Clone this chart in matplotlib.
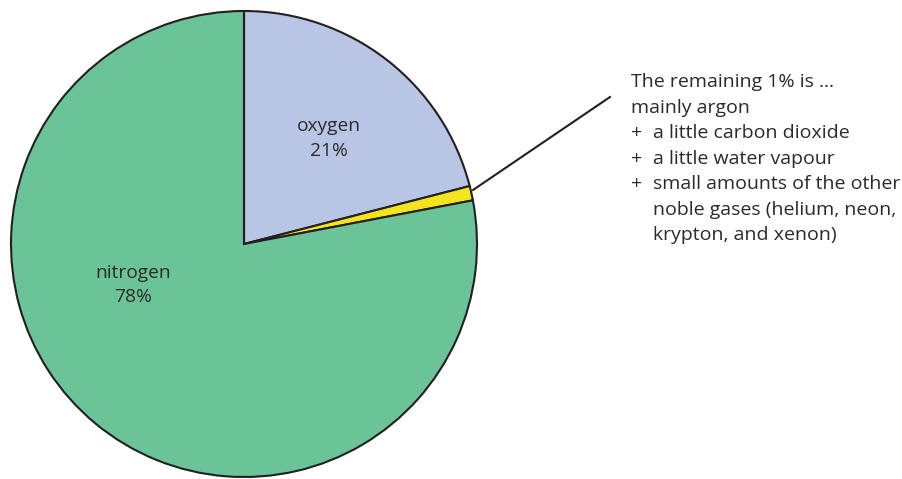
import matplotlib.pyplot as plt

plt.rcParams['font.family'] = ['Open Sans', 'DejaVu Sans']

# pie data
labels = ['oxygen', 'other', 'nitrogen']
shares = [21, 1, 78]
colours = ['#b8c5e5', '#f4e41e', '#6bc497']

# note text: (bullet, text)
note_lines = [('', 'The remaining 1% is ...'),
              ('', 'mainly argon'),
              ('+', 'a little carbon dioxide'),
              ('+', 'a little water vapour'),
              ('+', 'small amounts of the other'),
              (' ', 'noble gases (helium, neon,'),
              (' ', 'krypton, and xenon)')]

ink = '#2b2a29'

fig = plt.figure(figsize=(9.03, 4.79), dpi=100)
ax = fig.add_axes([0, 0, 1, 1])

cx, cy, r = 244, 235, 233
ax.pie(shares, colors=colours, startangle=90, counterclock=False,
       center=(cx, cy), radius=r, frame=True,
       wedgeprops=dict(edgecolor='#231f20', linewidth=1.5))
ax.set_xlim(0, 903)
ax.set_ylim(0, 479)
ax.set_aspect('equal')
ax.axis('off')

ax.text(329, 479 - 138, 'oxygen\n21%', ha='center', va='center', fontsize=13.8,
        color=ink, linespacing=1.5)
ax.text(133, 479 - 285, 'nitrogen\n78%', ha='center', va='center', fontsize=13.8,
        color=ink, linespacing=1.5)

# leader line to the 1% wedge
ax.plot([473, 610], [479 - 190, 479 - 97], color='#231f20', lw=1.5)

y = 479 - 82
for bullet, line in note_lines:
    if bullet == '':
        ax.text(631, y, line, ha='left', va='center', fontsize=14, color=ink)
    else:
        ax.text(631, y, bullet, ha='left', va='center', fontsize=14, color=ink)
        ax.text(653, y, line, ha='left', va='center', fontsize=14, color=ink)
    y -= 25.5

fig.savefig('out.png', dpi=100)
